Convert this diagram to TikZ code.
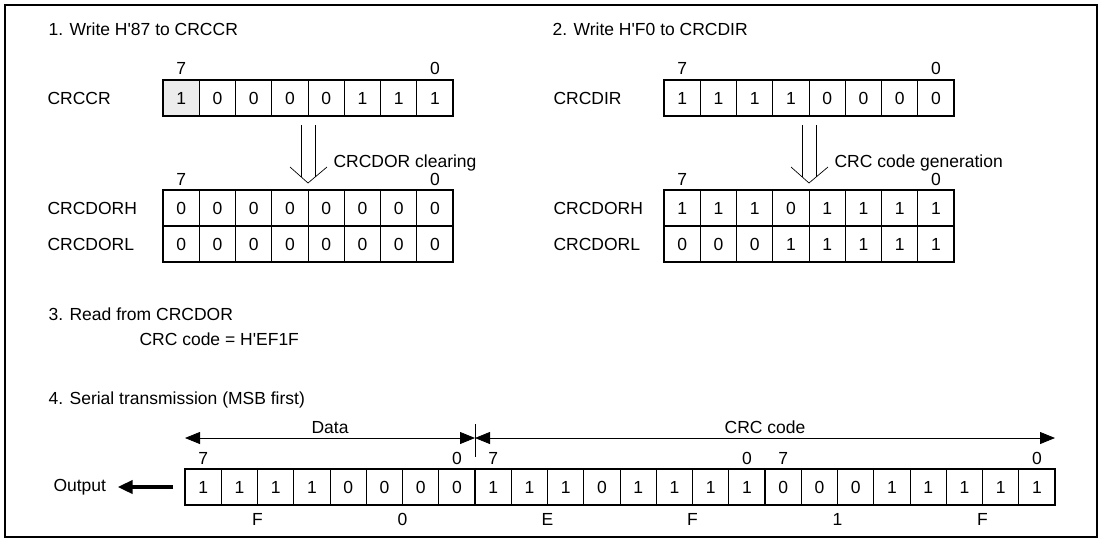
\documentclass[tikz,border=0pt]{standalone}
\usepackage{fontspec}
\setmainfont{Liberation Sans}
\usetikzlibrary{arrows.meta,positioning,calc}

\begin{document}
\begin{tikzpicture}[
    x=1pt, y=-1pt,
    font=\fontsize{17.5}{20}\selectfont,
    cell/.style={draw, line width=0.6pt, minimum width=36.25pt, minimum height=36pt,
                 inner sep=0pt, outer sep=0pt},
    regline/.style={line width=1.6pt},
    heading/.style={anchor=west},
    regname/.style={anchor=west},
    bitno/.style={inner sep=0pt},
    hexdigit/.style={inner sep=0pt},
    hollow/.style={line width=0.7pt},
    dimline/.style={{Triangle[length=15pt,width=12pt]}-{Triangle[length=15pt,width=12pt]},
                    line width=0.8pt},
    outarrow/.style={-{Triangle[length=15pt,width=13pt]}, line width=4pt}
]
\useasboundingbox (0,0) rectangle (1103,542);
\draw[line width=1.6pt] (5,5) rectangle (1097,537);

% 1. write CRCCR
\node[heading] (step1) at (45,29) {1. Write H\textquotesingle 87 to CRCCR};
\node[regname] (ccr-name) at (44,98) {CRCCR};
\node[cell, fill=gray!15] (ccr-1) at ({163+0.5*36.25},98) {1};
\foreach \b [count=\i from 2] in {0,0,0,0,1,1,1}
  \node[cell] (ccr-\i) at ({163+(\i-0.5)*36.25},98) {\b};
\draw[regline] (ccr-1.north west) rectangle (ccr-8.south east);
\node[bitno] (ccr-hi) at ([yshift=12pt]ccr-1.north) {7};
\node[bitno] (ccr-lo) at ([yshift=12pt]ccr-8.north) {0};

\node[regname] (dorh-name) at (44,208) {CRCDORH};
\node[regname] (dorl-name) at (44,244) {CRCDORL};
\foreach \i in {1,...,8} {
  \node[cell] (dorh-\i) at ({163+(\i-0.5)*36.25},208) {0};
  \node[cell] (dorl-\i) at ({163+(\i-0.5)*36.25},244) {0};
}
\draw[regline] (dorh-1.north west) rectangle (dorl-8.south east);
\draw[regline] (dorh-1.south west) -- (dorh-8.south east);
\node[bitno] (dor-hi) at ([yshift=11pt]dorh-1.north) {7};
\node[bitno] (dor-lo) at ([yshift=11pt]dorh-8.north) {0};

\coordinate (clr-tip) at ([yshift=7pt]dorh-4.north east);
\draw[hollow] (clr-tip) ++(-18,-16) -- (clr-tip) -- ++(19,-16);
\draw[hollow] (clr-tip) ++(-7,-6) -- ++(0,-52);
\draw[hollow] (clr-tip) ++(7,-6) -- ++(0,-52);
\node[heading] (clr-lbl) at (330,163) {CRCDOR clearing};

% 2. write CRCDIR
\node[heading] (step2) at (549,29) {2. Write H\textquotesingle F0 to CRCDIR};
\node[regname] (dir-name) at (550,98) {CRCDIR};
\foreach \b [count=\i] in {1,1,1,1,0,0,0,0}
  \node[cell] (dir-\i) at ({664+(\i-0.5)*36.25},98) {\b};
\draw[regline] (dir-1.north west) rectangle (dir-8.south east);
\node[bitno] (dir-hi) at ([yshift=12pt]dir-1.north) {7};
\node[bitno] (dir-lo) at ([yshift=12pt]dir-8.north) {0};

\node[regname] (gdorh-name) at (550,208) {CRCDORH};
\node[regname] (gdorl-name) at (550,244) {CRCDORL};
\foreach \b [count=\i] in {1,1,1,0,1,1,1,1}
  \node[cell] (gdorh-\i) at ({664+(\i-0.5)*36.25},208) {\b};
\foreach \b [count=\i] in {0,0,0,1,1,1,1,1}
  \node[cell] (gdorl-\i) at ({664+(\i-0.5)*36.25},244) {\b};
\draw[regline] (gdorh-1.north west) rectangle (gdorl-8.south east);
\draw[regline] (gdorh-1.south west) -- (gdorh-8.south east);
\node[bitno] (gdor-hi) at ([yshift=11pt]gdorh-1.north) {7};
\node[bitno] (gdor-lo) at ([yshift=11pt]gdorh-8.north) {0};

\coordinate (gen-tip) at ([yshift=7pt]gdorh-4.north east);
\draw[hollow] (gen-tip) ++(-18,-16) -- (gen-tip) -- ++(19,-16);
\draw[hollow] (gen-tip) ++(-7,-6) -- ++(0,-52);
\draw[hollow] (gen-tip) ++(7,-6) -- ++(0,-52);
\node[heading] (gen-lbl) at (831,163) {CRC code generation};

% 3. read CRCDOR
\node[heading] (step3) at (45,314) {3. Read from CRCDOR};
\node[heading] (crc-val) at (136,339) {CRC code = H\textquotesingle EF1F};

% 4. serial output
\node[heading] (step4) at (45,400) {4. Serial transmission (MSB first)};
\foreach \b [count=\i] in {1,1,1,1,0,0,0,0,1,1,1,0,1,1,1,1,0,0,0,1,1,1,1,1}
  \node[cell] (ser-\i) at ({185+(\i-0.5)*36.25},487) {\b};
\draw[regline] (ser-1.north west) rectangle (ser-24.south east);
\draw[regline] (ser-8.north east) -- (ser-8.south east);
\draw[regline] (ser-16.north east) -- (ser-16.south east);
\foreach \c/\t in {1/7,8/0,9/7,16/0,17/7,24/0}
  \node[bitno] (bit-\c) at ([yshift=11pt]ser-\c.north) {\t};
\foreach \h [count=\k] in {F,0,E,F,1,F} {
  \pgfmathtruncatemacro\c{4*\k-2}
  \node[hexdigit] (hex-\k) at ([yshift=-14pt]ser-\c.south east) {\h};
}

\coordinate (dat-l) at ([yshift=31pt]ser-1.north west);
\coordinate (split) at ([yshift=31pt]ser-8.north east);
\coordinate (crc-r) at ([yshift=31pt]ser-24.north east);
\draw[dimline] (dat-l) -- node[above=1pt] (data-lbl) {Data} (split);
\draw[dimline] (split) -- node[above=1pt] (crc-lbl) {CRC code} (crc-r);
\draw[line width=0.8pt] ([yshift=14pt]split) -- ([yshift=-19pt]split);

\node[heading] (out-lbl) at (50,487) {Output};
\draw[outarrow] ([xshift=-12pt]ser-1.west) -- ([xshift=8pt]out-lbl.east);
\end{tikzpicture}
\end{document}
